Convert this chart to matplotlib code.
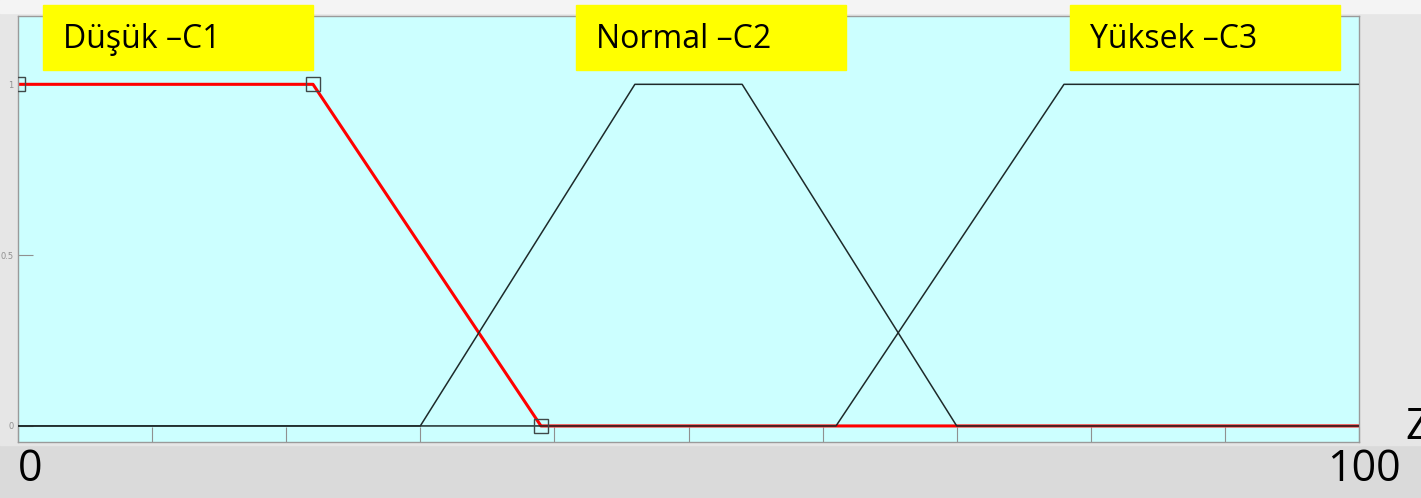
import matplotlib.pyplot as plt
from matplotlib.patches import Rectangle

# membership functions
x_low = [0, 22, 39, 100]
y_low = [1, 1, 0, 0]
x_norm = [0, 30, 46, 54, 70, 100]
y_norm = [0, 0, 1, 1, 0, 0]
x_high = [0, 61, 78, 100]
y_high = [0, 0, 1, 1]
labels = ['Düşük –C1', 'Normal –C2', 'Yüksek –C3']
label_x = [43, 576, 1070]  # left edge of yellow boxes, px
x_ticks = list(range(0, 101, 10))
y_ticks = [0, 0.5, 1]

W, H = 1421, 498
fig = plt.figure(figsize=(W / 100, H / 100), dpi=100)
fig.patch.set_facecolor('#dadada')
fig.patches.append(Rectangle((0, 1 - 445 / H), 1, 445 / H - 13 / H,
                             transform=fig.transFigure, color='#e6e6e6', zorder=-10))
fig.patches.append(Rectangle((0, 1 - 13 / H), 1, 13 / H,
                             transform=fig.transFigure, color='#f4f4f4', zorder=-10))

ax = fig.add_axes([18 / W, 1 - 442 / H, (1359 - 18) / W, (442 - 16) / H])
ax.set_facecolor('#ccffff')
ax.set_xlim(0, 100)
ax.set_ylim(-0.047, 1.2)

ax.plot(x_low, y_low, color='#ff0000', lw=2.2, zorder=2)
ax.plot(x_low[:3], y_low[:3], ls='none', marker='s', ms=10, mfc='none',
        mec='#404848', mew=1.0, zorder=4)
ax.plot(x_norm, y_norm, color='#1e2a2a', lw=1.1, zorder=3)
ax.plot(x_high, y_high, color='#1e2a2a', lw=1.1, zorder=3)

ax.set_xticks(x_ticks)
ax.set_xticklabels([])
ax.set_yticks(y_ticks)
ax.set_yticklabels(['0', '0.5', '1'])
ax.tick_params(direction='in', length=11, width=0.8, color='#909090',
               labelsize=6, labelcolor='#909090', pad=3)
for s in ax.spines.values():
    s.set_color('#9a9a9a')
    s.set_linewidth(1.0)

for lab, lx in zip(labels, label_x):
    fig.patches.append(Rectangle((lx / W, 1 - 70 / H), 270 / W, 65 / H,
                                 transform=fig.transFigure, color='#ffff00', zorder=5))
    fig.text((lx + 20) / W, 1 - 39 / H, lab, fontsize=23, family='Open Sans',
             va='center', ha='left', zorder=6)

fig.text(18 / W, 1 - 470 / H, '0', fontsize=31, family='Open Sans', va='center')
fig.text(1327 / W, 1 - 470 / H, '100', fontsize=31, family='Open Sans', va='center')
fig.text(1405 / W, 1 - 428 / H, 'Z', fontsize=31, family='Open Sans', va='center')

fig.savefig('out.png', dpi=100, facecolor=fig.get_facecolor())
